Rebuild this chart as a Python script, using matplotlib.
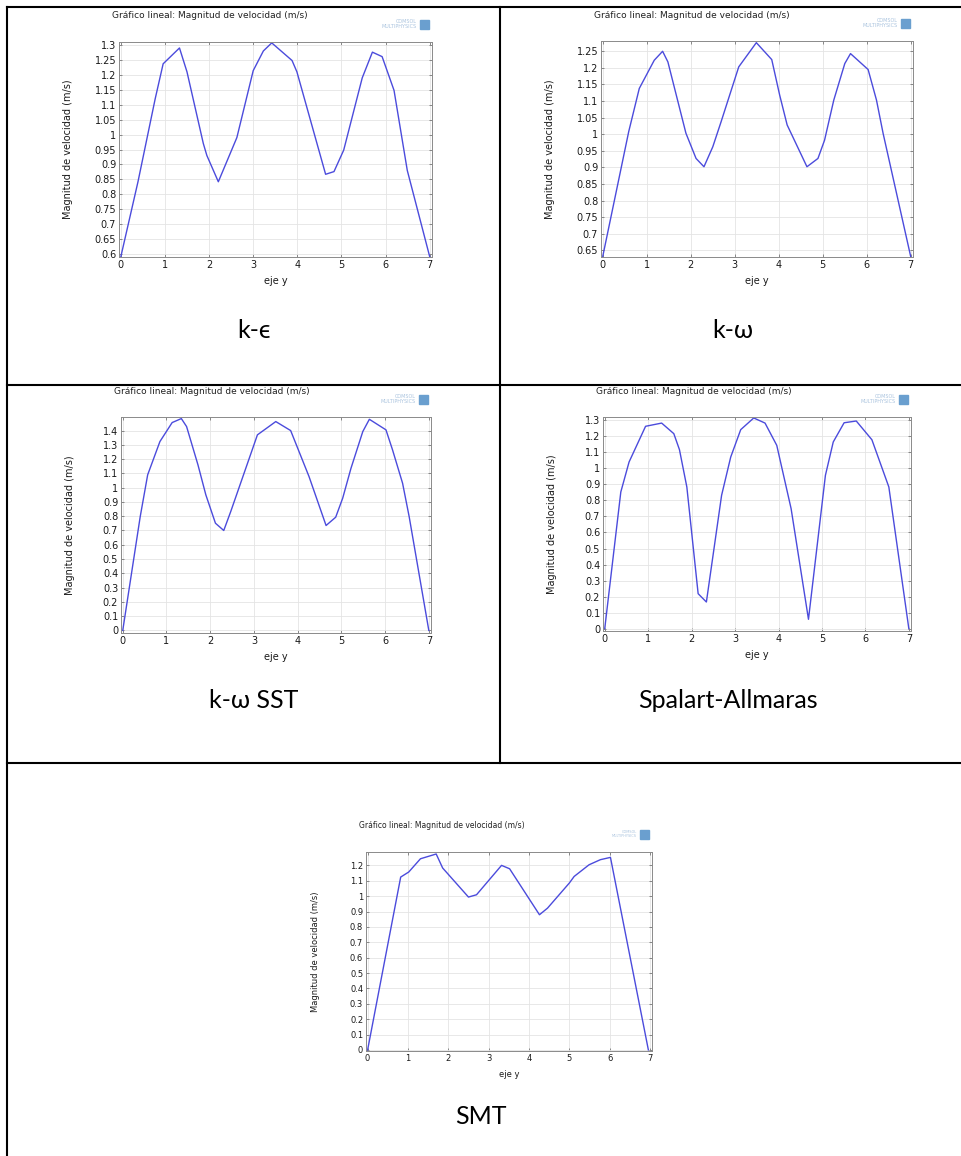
import matplotlib
matplotlib.use('Agg')
import matplotlib.pyplot as plt
from matplotlib.lines import Line2D
from matplotlib.patches import Rectangle
from matplotlib.ticker import MultipleLocator, FuncFormatter

# velocity magnitude profiles (eje y, m/s)
ke_x = [0, 0.39, 0.78, 0.96, 1.33, 1.5, 1.87, 1.95, 2.21, 2.63, 3.0, 3.23, 3.42,
        3.88, 3.99, 4.64, 4.83, 5.05, 5.47, 5.70, 5.92, 6.19, 6.49, 7.0]
ke_v = [0.59, 0.842, 1.12, 1.237, 1.29, 1.21, 0.97, 0.93, 0.842, 0.99, 1.214, 1.28, 1.307,
        1.248, 1.21, 0.867, 0.876, 0.948, 1.19, 1.276, 1.261, 1.148, 0.88, 0.59]

kw_x = [0, 0.59, 0.83, 1.17, 1.36, 1.48, 1.89, 2.12, 2.30, 2.50, 2.69, 3.09, 3.49,
        3.84, 4.02, 4.19, 4.64, 4.89, 5.04, 5.25, 5.50, 5.63, 6.03, 6.22, 6.37, 7.0]
kw_v = [0.632, 1.008, 1.138, 1.223, 1.25, 1.218, 1.003, 0.927, 0.902, 0.962, 1.038, 1.203, 1.276,
        1.225, 1.118, 1.028, 0.902, 0.927, 0.982, 1.103, 1.213, 1.243, 1.195, 1.103, 1.003, 0.63]

sst_x = [0, 0.40, 0.57, 0.85, 1.13, 1.34, 1.46, 1.72, 1.90, 2.12, 2.31, 2.47, 3.08, 3.50,
         3.84, 4.26, 4.65, 4.87, 5.03, 5.22, 5.49, 5.64, 6.02, 6.17, 6.40, 6.55, 7.0]
sst_v = [0, 0.798, 1.09, 1.323, 1.456, 1.484, 1.428, 1.16, 0.95, 0.751, 0.70, 0.833, 1.37, 1.463,
         1.40, 1.078, 0.735, 0.793, 0.926, 1.136, 1.393, 1.479, 1.405, 1.265, 1.031, 0.798, 0]

sa_x = [0, 0.37, 0.56, 0.94, 1.31, 1.59, 1.72, 1.89, 2.15, 2.34, 2.69, 2.90, 3.13, 3.43,
        3.69, 3.96, 4.29, 4.69, 5.08, 5.26, 5.51, 5.79, 6.15, 6.54, 7.0]
sa_v = [0, 0.853, 1.04, 1.263, 1.283, 1.217, 1.117, 0.884, 0.218, 0.166, 0.832, 1.071, 1.242, 1.315,
        1.283, 1.144, 0.749, 0.058, 0.957, 1.165, 1.285, 1.296, 1.179, 0.884, 0]

smt_x = [0, 0.82, 1.02, 1.31, 1.70, 1.86, 2.50, 2.70, 3.32, 3.52, 4.26, 4.46, 5.0, 5.12,
         5.49, 5.77, 6.02, 6.96]
smt_v = [0.0, 1.124, 1.157, 1.243, 1.274, 1.183, 0.994, 1.009, 1.20, 1.178, 0.879, 0.922, 1.085, 1.128,
         1.204, 1.237, 1.252, 0.0]

labels = ['k-ϵ', 'k-ω', 'k-ω SST', 'Spalart-Allmaras', 'SMT']

W, H = 962, 1156
fig = plt.figure(figsize=(W / 100, H / 100), dpi=100)
fig.patch.set_facecolor('white')


def fx(x):
    return x / W


def fy(y):
    return 1 - y / H


def panel(box, x, v, ylim, ystep, fs):
    left, right, top, bottom = box
    ax = fig.add_axes([fx(left), fy(bottom), (right - left) / W, (bottom - top) / H])
    ax.plot(x, v, color='#4b4bdc', lw=1.0)
    ax.set_xlim(-0.04, 7.05)
    ax.set_ylim(*ylim)
    ax.xaxis.set_major_locator(MultipleLocator(1))
    ax.yaxis.set_major_locator(MultipleLocator(ystep))
    ax.yaxis.set_major_formatter(FuncFormatter(lambda t, p: f'{round(t, 2):g}'))
    ax.grid(True, color='#e4e4e4', lw=0.6)
    ax.set_axisbelow(True)
    ax.tick_params(direction='in', length=2.5, width=0.6, color='#777777',
                   top=True, right=True, labelsize=fs, pad=2, labelcolor='#1a1a1a')
    for s in ax.spines.values():
        s.set_color('#8a8a8a')
        s.set_linewidth(0.7)
    ax.set_xlabel('eje y', fontsize=fs, color='#1a1a1a')
    ax.set_ylabel('Magnitud de velocidad (m/s)', fontsize=fs, color='#1a1a1a')
    ax.xaxis.set_label_coords(0.5, -19 / (bottom - top))
    ax.yaxis.set_label_coords(-46 / (right - left), 0.5)
    # COMSOL header text and logo
    fig.text(fx(left - 7), fy(top - 26), 'Gráfico lineal: Magnitud de velocidad (m/s)',
             fontsize=fs - 0.5, va='center', ha='left', color='#222222')
    fig.text(fx(right - 15), fy(top - 18), 'COMSOL\nMULTIPHYSICS', fontsize=fs - 3.5,
             ha='right', va='center', color='#a9c3de', linespacing=0.9)
    fig.add_artist(Rectangle((fx(right - 12), fy(top - 13)), 9 / W, 9 / H,
                             transform=fig.transFigure, color='#6a9fcf'))
    return ax


panel((119, 432, 42, 257), ke_x, ke_v, (0.59, 1.31), 0.05, 7)
panel((601, 913, 41, 257), kw_x, kw_v, (0.63, 1.281), 0.05, 7)
panel((121, 431, 417, 633), sst_x, sst_v, (-0.018, 1.495), 0.1, 7)
panel((603, 911, 417, 631), sa_x, sa_v, (-0.015, 1.321), 0.1, 7)
panel((366, 652, 852, 1051), smt_x, smt_v, (-0.007, 1.287), 0.1, 6)

# table grid
lw = 1.5
for (x0, y0, x1, y1) in [(7, 7, W, 7), (7, 7, 7, H), (500, 7, 500, 763),
                         (7, 385, W, 385), (7, 763, W, 763)]:
    fig.add_artist(Line2D([fx(x0), fx(x1)], [fy(y0), fy(y1)], color='black', lw=lw,
                          transform=fig.transFigure))

# cell captions
cap = dict(fontsize=18, ha='center', va='center', family=['Lato', 'DejaVu Sans'])
fig.text(fx(254), fy(330), labels[0], **cap)
fig.text(fx(733), fy(330), labels[1], **cap)
fig.text(fx(254), fy(700), labels[2], **cap)
fig.text(fx(728), fy(700), labels[3], **cap)
fig.text(fx(481), fy(1117), labels[4], **cap)

fig.savefig('out.png', dpi=100)
